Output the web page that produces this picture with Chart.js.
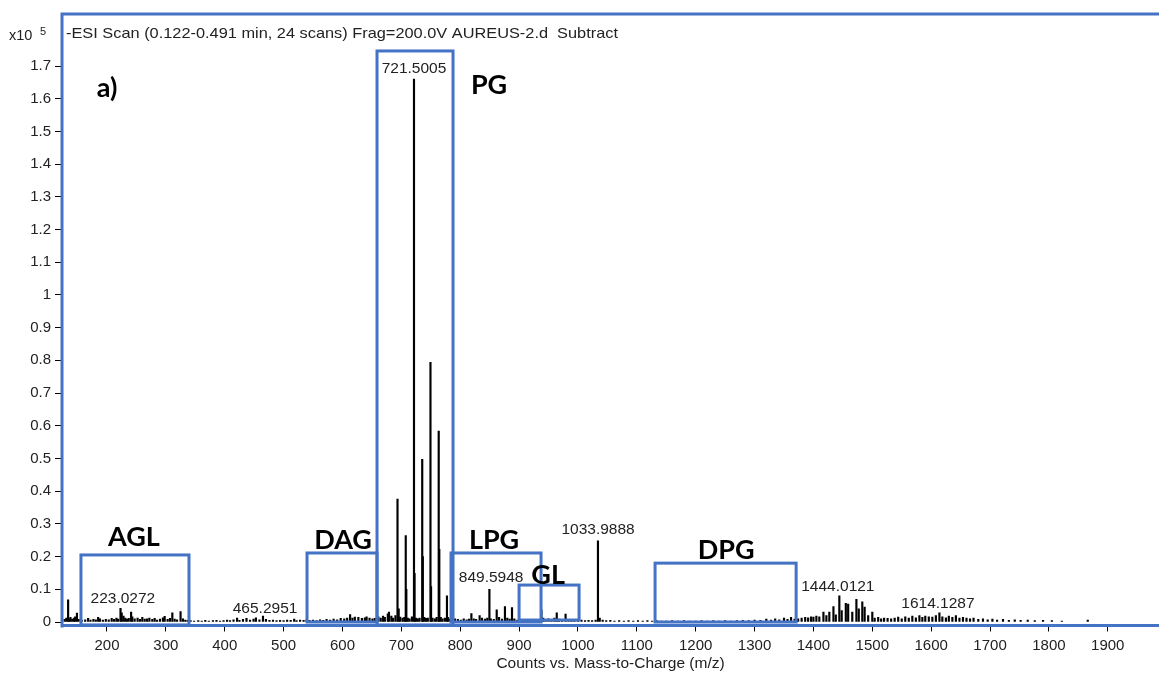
<!DOCTYPE html>
<html>
<head>
<meta charset="utf-8">
<script src="https://cdn.jsdelivr.net/npm/chart.js@4.4.1/dist/chart.umd.min.js"></script>
<style>
  html, body { margin: 0; padding: 0; background: #fff; }
</style>
</head>
<body>
<canvas id="spectrum" width="1159" height="675"></canvas>
<script>
// peak list: m/z and counts (x10^5)
const mzValues = [
    128, 131, 134, 136, 138, 141, 144, 146, 149, 152, 157, 163, 168, 172, 177, 181, 185, 188, 193, 198,
    203, 208, 212, 216, 219, 223, 225, 228, 231, 234, 237, 241, 243, 247, 252, 256, 260, 264, 268, 272,
    277, 281, 285, 290, 295, 298, 303, 307, 311, 315, 319, 325, 329, 333, 337,
    342, 348, 355, 361, 367, 373, 380, 386, 392, 398, 404, 409, 415, 421, 425, 431, 437, 443, 449, 453,
    459, 465, 470, 476, 482, 488, 494, 500, 506, 512, 518, 522, 528, 534, 539,
    544, 550, 556, 562, 567, 573, 579, 585, 591, 597, 603, 608, 613, 617, 621, 627, 633, 638, 641, 646, 651, 655,
    661, 665, 669, 672, 677, 679, 683, 686, 690, 693.5, 695.5, 698, 702, 705, 707.5, 708.5, 711, 714, 718,
    721.5, 722.5, 725, 728, 731, 735.5, 736.5, 739, 742, 745, 749.5, 750.5, 753, 757, 760, 763.5, 764.5,
    767, 770, 774, 777.5, 779, 782, 786,
    791, 796, 801, 806, 811, 815, 819, 823, 827, 833, 837, 842, 846, 849.6, 852, 857, 862, 866, 871, 876,
    880, 884, 888, 892, 897, 902, 907, 912, 917, 922, 927, 932, 938, 941,
    945, 950, 955, 960, 964, 968, 973, 979, 984, 989, 994, 1000, 1006, 1012, 1018, 1024, 1030, 1034, 1037,
    1042, 1048, 1055, 1062, 1070, 1078, 1086, 1094, 1102, 1110, 1118, 1126, 1134, 1142, 1150, 1160, 1170,
    1180, 1190, 1200, 1210, 1220, 1230, 1240, 1250, 1260, 1270, 1280, 1290, 1300, 1310, 1320, 1328, 1335,
    1342, 1350, 1356, 1362, 1368,
    1374, 1380, 1386, 1391, 1396, 1400, 1405, 1410, 1417, 1422, 1427, 1434, 1438, 1444, 1448, 1455, 1459,
    1466, 1473, 1477, 1483, 1487, 1493, 1500, 1504, 1510, 1515, 1520, 1526, 1532, 1538, 1544, 1550, 1556,
    1562, 1568, 1574, 1580, 1585, 1590, 1596, 1602, 1608, 1614, 1619, 1625, 1630, 1636, 1642, 1648, 1654,
    1660, 1666, 1672, 1680, 1688, 1696, 1704, 1712, 1722, 1732, 1742, 1752, 1764, 1776, 1790, 1805, 1822, 1866
];
const counts = [
    0.008, 0.012, 0.068, 0.010, 0.014, 0.009, 0.012, 0.016, 0.027, 0.008, 0.006, 0.007, 0.011, 0.006, 0.008, 0.007, 0.014, 0.010, 0.006, 0.008,
    0.007, 0.011, 0.008, 0.012, 0.009, 0.042, 0.028, 0.018, 0.012, 0.009, 0.011, 0.030, 0.016, 0.010, 0.012, 0.008, 0.014, 0.009, 0.010, 0.012,
    0.008, 0.011, 0.006, 0.009, 0.013, 0.017, 0.008, 0.011, 0.028, 0.009, 0.007, 0.032, 0.010, 0.006, 0.005,
    0.004, 0.003, 0.004, 0.003, 0.005, 0.003, 0.004, 0.005, 0.003, 0.004, 0.006, 0.004, 0.007, 0.012, 0.005, 0.008, 0.011, 0.006, 0.009, 0.013,
    0.007, 0.018, 0.008, 0.005, 0.006, 0.004, 0.005, 0.004, 0.006, 0.005, 0.009, 0.004, 0.006, 0.005, 0.007,
    0.005, 0.006, 0.004, 0.007, 0.005, 0.008, 0.006, 0.009, 0.007, 0.011, 0.010, 0.012, 0.023, 0.012, 0.015, 0.014, 0.011, 0.013, 0.016, 0.012, 0.010, 0.011,
    0.016, 0.012, 0.018, 0.014, 0.025, 0.030, 0.018, 0.012, 0.020, 0.376, 0.040, 0.015, 0.012, 0.014, 0.264, 0.100, 0.012, 0.010, 0.016,
    1.660, 0.149, 0.012, 0.010, 0.012, 0.497, 0.200, 0.014, 0.011, 0.012, 0.794, 0.108, 0.012, 0.010, 0.014, 0.584, 0.222,
    0.014, 0.010, 0.012, 0.080, 0.014, 0.010, 0.008,
    0.010, 0.008, 0.006, 0.010, 0.007, 0.009, 0.026, 0.010, 0.008, 0.020, 0.012, 0.009, 0.012, 0.100, 0.010, 0.008, 0.037, 0.014, 0.009, 0.047,
    0.012, 0.009, 0.044, 0.010, 0.006, 0.008, 0.005, 0.007, 0.006, 0.008, 0.006, 0.007, 0.037, 0.012,
    0.006, 0.010, 0.008, 0.012, 0.028, 0.009, 0.007, 0.024, 0.008, 0.006, 0.007, 0.005, 0.006, 0.004, 0.005, 0.004, 0.006, 0.248, 0.012,
    0.006, 0.004, 0.005, 0.003, 0.004, 0.003, 0.004, 0.003, 0.004, 0.003, 0.004, 0.003, 0.004, 0.003, 0.003, 0.004, 0.003,
    0.004, 0.003, 0.003, 0.004, 0.003, 0.004, 0.003, 0.004, 0.003, 0.004, 0.005, 0.004, 0.006, 0.005, 0.009, 0.006, 0.010,
    0.007, 0.012, 0.008, 0.014, 0.009,
    0.010, 0.012, 0.014, 0.013, 0.016, 0.015, 0.018, 0.016, 0.030, 0.020, 0.030, 0.047, 0.022, 0.080, 0.035, 0.057, 0.055,
    0.030, 0.069, 0.040, 0.062, 0.046, 0.020, 0.030, 0.012, 0.014, 0.010, 0.012, 0.011, 0.010, 0.012, 0.015, 0.010, 0.016,
    0.012, 0.018, 0.013, 0.020, 0.014, 0.018, 0.016, 0.015, 0.020, 0.028, 0.016, 0.013, 0.018, 0.014, 0.020, 0.012, 0.014,
    0.012, 0.010, 0.012, 0.008, 0.010, 0.007, 0.009, 0.006, 0.008, 0.005, 0.007, 0.005, 0.006, 0.004, 0.005, 0.004, 0.003, 0.006
];

// annotated peaks (text, where the text sits)
const peakLabels = ['721.5005', '223.0272', '465.2951', '849.5948', '1033.9888', '1444.0121', '1614.1287'];
const peakLabelMz = [721.5, 227, 468.5, 852.5, 1034.2, 1441.5, 1611.5];
const peakLabelY = [1.691, 0.070, 0.040, 0.135, 0.281, 0.107, 0.055];

// lipid class boxes
const regionNames = ['AGL', 'DAG', 'PG', 'LPG', 'GL', 'DPG'];
const regionFrom = [155.8, 539.8, 658.7, 784.4, 900, 1131];
const regionTo = [339.3, 658.7, 787.8, 937.3, 1001.9, 1370.6];
const regionTop = [0.205, 0.211, 1.746, 0.211, 0.113, 0.18];
const regionBottom = [-0.009, 0, -0.009, 0, 0.006, 0];
const regionNameMz = [245.9, 601, 849, 857.5, 949.3, 1251.7];
const regionNameY = [0.26, 0.251, 1.642, 0.251, 0.144, 0.22];

const panelLabel = 'a)';
const panelLabelMz = 200;
const panelLabelY = 1.633;

const headerText = '-ESI Scan (0.122-0.491 min, 24 scans) Frag=200.0V AUREUS-2.d  Subtract';

const BLUE = '#4472C4';
const SANS = '"Liberation Sans", Arial, sans-serif';

const overlay = {
    id: 'overlay',
    afterDatasetsDraw(chart) {
        const { ctx, chartArea: area, scales: { x, y } } = chart;
        ctx.save();

        // boxes around the lipid classes
        ctx.strokeStyle = BLUE;
        ctx.lineWidth = 3;
        regionNames.forEach((name, i) => {
            const l = x.getPixelForValue(regionFrom[i]);
            const r = x.getPixelForValue(regionTo[i]);
            const t = y.getPixelForValue(regionTop[i]);
            const b = y.getPixelForValue(regionBottom[i]);
            ctx.strokeRect(l, t, r - l, b - t);
        });

        // frame round the plot
        ctx.beginPath();
        ctx.moveTo(area.left, area.bottom + 2);
        ctx.lineTo(area.left, area.top);
        ctx.lineTo(area.right, area.top);
        ctx.moveTo(area.left, area.bottom);
        ctx.lineTo(area.right, area.bottom);
        ctx.stroke();

        // peak masses
        ctx.fillStyle = '#222';
        ctx.font = '15.5px ' + SANS;
        ctx.textAlign = 'center';
        ctx.textBaseline = 'middle';
        peakLabels.forEach((txt, i) => {
            ctx.fillText(txt, x.getPixelForValue(peakLabelMz[i]), y.getPixelForValue(peakLabelY[i]));
        });

        // class names
        ctx.fillStyle = '#000';
        ctx.font = 'bold 27px Lato, "Open Sans", sans-serif';
        regionNames.forEach((name, i) => {
            ctx.fillText(name, x.getPixelForValue(regionNameMz[i]), y.getPixelForValue(regionNameY[i]));
        });
        ctx.fillText(panelLabel, x.getPixelForValue(panelLabelMz), y.getPixelForValue(panelLabelY));

        // scan header, stretched to the width it has in the original
        ctx.fillStyle = '#222';
        ctx.textAlign = 'left';
        ctx.font = '15px ' + SANS;
        const w = ctx.measureText(headerText).width;
        ctx.save();
        ctx.translate(area.left + 4, area.top + 20);
        ctx.scale(552 / w, 1);
        ctx.fillText(headerText, 0, 0);
        ctx.restore();

        // y multiplier
        ctx.font = '14.5px ' + SANS;
        ctx.fillText('x10', 9, area.top + 22);
        ctx.font = '11px ' + SANS;
        ctx.fillText('5', 40, area.top + 18);
        ctx.restore();
    }
};

new Chart(document.getElementById('spectrum'), {
    type: 'bar',
    data: {
        datasets: [{
            data: mzValues.map((m, i) => ({ x: m, y: counts[i] })),
            backgroundColor: '#000',
            borderWidth: 0,
            barThickness: 1.5
        }]
    },
    options: {
        responsive: false,
        animation: false,
        devicePixelRatio: 1,
        layout: { padding: { top: 14, left: 0, right: 0, bottom: 0 } },
        plugins: { legend: { display: false }, tooltip: { enabled: false } },
        scales: {
            x: {
                type: 'linear',
                min: 123.6,
                max: 1987,
                offset: false,
                afterFit: s => { s.height = 49.5; },
                ticks: {
                    stepSize: 100,
                    includeBounds: false,
                    autoSkip: false,
                    maxRotation: 0,
                    padding: 5,
                    color: '#222',
                    font: { family: SANS, size: 15 },
                    callback: v => String(v)
                },
                grid: { offset: false, drawOnChartArea: false, tickLength: 6, color: '#000' },
                border: { color: '#000' },
                title: {
                    display: true,
                    text: 'Counts vs. Mass-to-Charge (m/z)',
                    color: '#222',
                    font: { family: SANS, size: 15.5 },
                    padding: { top: 0, bottom: 2 }
                }
            },
            y: {
                min: -0.0107,
                max: 1.859,
                afterFit: s => { s.width = 62; },
                ticks: {
                    stepSize: 0.1,
                    includeBounds: false,
                    padding: 4,
                    color: '#222',
                    font: { family: SANS, size: 15 },
                    callback: v => (v > 1.75 ? null : String(Math.round(v * 10) / 10))
                },
                grid: { drawOnChartArea: false, tickLength: 7, color: '#000' },
                border: { color: '#000' }
            }
        }
    },
    plugins: [overlay]
});
</script>
</body>
</html>
